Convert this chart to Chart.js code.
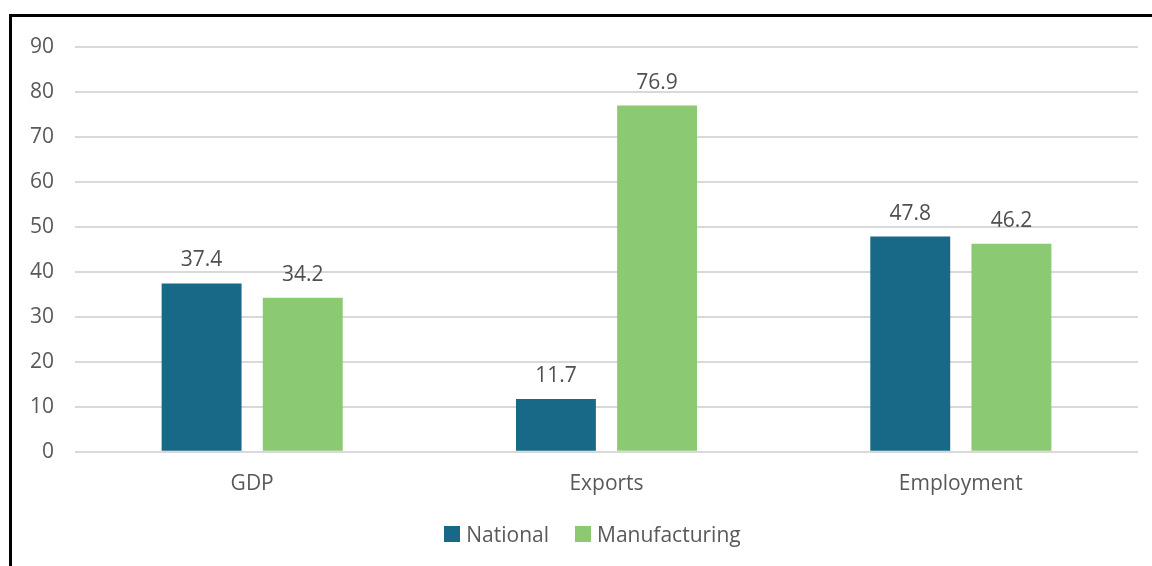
<!DOCTYPE html>
<html>
<head>
<meta charset="utf-8">
<script src="https://cdn.jsdelivr.net/npm/chart.js@4/dist/chart.umd.min.js"></script>
<style>
  html, body { margin: 0; padding: 0; background: #fff; width: 1152px; height: 566px; overflow: hidden; }
  #frame {
    position: absolute; left: 9px; top: 14px;
    width: 1160px; height: 570px;
    border-left: 3px solid #000; border-top: 3px solid #000;
  }
  #wrap { position: absolute; left: 0; top: 0; width: 1143px; height: 552px; }
  #legend {
    position: absolute; left: 0; top: 520px; width: 1185px;
    display: flex; justify-content: center; align-items: center;
    font: 21px "Open Sans", "Noto Sans", sans-serif; color: #595959;
  }
  .legend-item { display: flex; align-items: center; margin: 0 13px; }
  .legend-box { width: 16px; height: 16px; margin-right: 6px; }
</style>
</head>
<body>
<div id="frame"><div id="wrap"><canvas id="chart"></canvas></div></div>
<div id="legend"></div>
<script>
// values
const categories = ['GDP', 'Exports', 'Employment'];
const nationalValues = [37.4, 11.7, 47.8];
const manufacturingValues = [34.2, 76.9, 46.2];
const seriesNames = ['National', 'Manufacturing'];

const textColor = '#595959';
const fontFamily = '"Open Sans", "Noto Sans", sans-serif';

// draw the number above each bar
const valueLabels = {
    id: 'valueLabels',
    afterDatasetsDraw(chart) {
        const ctx = chart.ctx;
        ctx.save();
        ctx.fillStyle = '#505050';
        ctx.font = '21px ' + fontFamily;
        ctx.textAlign = 'center';
        ctx.textBaseline = 'alphabetic';
        chart.data.datasets.forEach((ds, i) => {
            chart.getDatasetMeta(i).data.forEach((bar, j) => {
                ctx.fillText(ds.data[j].toFixed(1), bar.x, bar.y - 17);
            });
        });
        ctx.restore();
    }
};

const ctx = document.getElementById('chart').getContext('2d');
const chart = new Chart(ctx, {
    type: 'bar',
    data: {
        labels: categories,
        datasets: [{
            label: seriesNames[0],
            data: nationalValues,
            backgroundColor: '#186987',
            categoryPercentage: 0.571,
            barPercentage: 0.79
        }, {
            label: seriesNames[1],
            data: manufacturingValues,
            backgroundColor: '#8cc973',
            categoryPercentage: 0.571,
            barPercentage: 0.79
        }]
    },
    options: {
        responsive: true,
        maintainAspectRatio: false,
        animation: false,
        layout: {
            padding: { top: 0, right: 17, left: -3, bottom: 52 }
        },
        plugins: {
            legend: { display: false },
            tooltip: { enabled: false }
        },
        scales: {
            x: {
                grid: { display: false, drawTicks: false },
                border: { display: false },
                ticks: {
                    color: textColor,
                    padding: 20,
                    font: { family: fontFamily, size: 21 }
                }
            },
            y: {
                min: 0,
                max: 90,
                grid: {
                    color: '#d9d9d9',
                    lineWidth: 2,
                    drawTicks: false
                },
                border: { display: false },
                ticks: {
                    stepSize: 10,
                    color: textColor,
                    padding: 21,
                    font: { family: fontFamily, size: 21 }
                },
                afterFit(scale) {
                    // pull the 90 line a little closer to the top frame
                    scale.paddingTop = Math.max(0, scale.paddingTop - 4);
                }
            }
        }
    },
    plugins: [valueLabels]
});

// html legend, spaced like the original
const legendNode = document.getElementById('legend');
chart.data.datasets.forEach(ds => {
    const item = document.createElement('div');
    item.className = 'legend-item';
    const box = document.createElement('span');
    box.className = 'legend-box';
    box.style.background = ds.backgroundColor;
    const label = document.createElement('span');
    label.textContent = ds.label;
    item.appendChild(box);
    item.appendChild(label);
    legendNode.appendChild(item);
});
</script>
</body>
</html>
